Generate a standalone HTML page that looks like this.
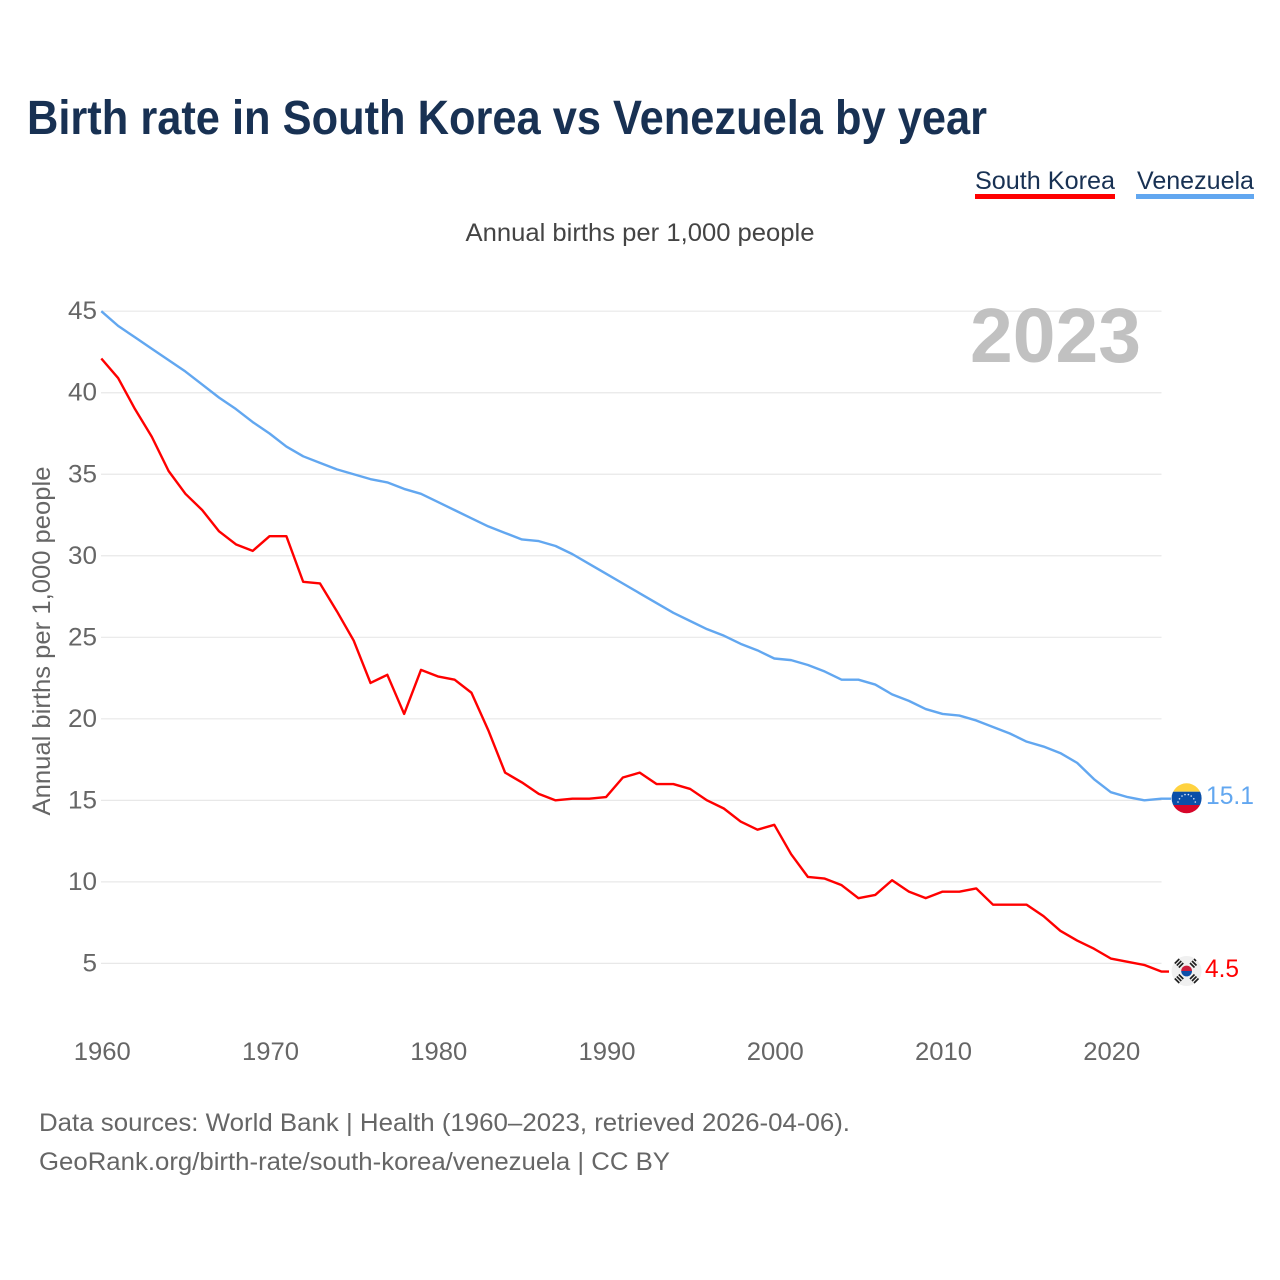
<!DOCTYPE html>
<html lang="en">
<head>
<meta charset="utf-8">
<title>Birth rate in South Korea vs Venezuela by year</title>
<style>
html,body{margin:0;padding:0;background:#fff;width:1280px;height:1280px;overflow:hidden}
svg{display:block}
text{font-family:"Liberation Sans",sans-serif}
</style>
</head>
<body>
<svg id="chart" width="1280" height="1280" viewBox="0 0 1280 1280" xmlns="http://www.w3.org/2000/svg">
  <rect x="0" y="0" width="1280" height="1280" fill="#fff"/>
  <text x="27" y="134" font-size="48" font-weight="700" fill="#183153" textLength="960" lengthAdjust="spacingAndGlyphs">Birth rate in South Korea vs Venezuela by year</text>

  <g>
    <text x="975" y="189" font-size="25" fill="#183153" textLength="140" lengthAdjust="spacingAndGlyphs">South Korea</text>
    <rect x="975" y="194" width="140" height="5" fill="#ff0000"/>
  </g>
  <g>
    <text x="1137" y="189" font-size="25" fill="#183153" textLength="117" lengthAdjust="spacingAndGlyphs">Venezuela</text>
    <rect x="1136" y="194" width="118" height="5" fill="#62a7f0"/>
  </g>

  <text x="640" y="241" font-size="25" fill="#444" text-anchor="middle" textLength="349" lengthAdjust="spacingAndGlyphs">Annual births per 1,000 people</text>

  <g id="grid"></g>
  <g id="yticks"></g>
  <g id="xticks"></g>

  <text x="0" y="0" transform="translate(50,641) rotate(-90)" font-size="25" fill="#666" text-anchor="middle" textLength="349" lengthAdjust="spacingAndGlyphs">Annual births per 1,000 people</text>

  <text x="970" y="362" font-size="77" font-weight="700" fill="#bebebe" fill-opacity="0.95" textLength="171" lengthAdjust="spacingAndGlyphs">2023</text>

  <polyline id="line-ve" fill="none" stroke="#62a7f0" stroke-width="2.4" stroke-linejoin="round"/>
  <polyline id="line-kr" fill="none" stroke="#ff0000" stroke-width="2.4" stroke-linejoin="round"/>

  <g id="flag-ve">
    <defs>
      <clipPath id="clip-ve"><circle cx="1186.6" cy="798.3" r="15"/></clipPath>
    </defs>
    <g clip-path="url(#clip-ve)">
      <rect x="1171" y="783" width="32" height="8.7" fill="#ffd23f"/>
      <rect x="1171" y="791.7" width="32" height="13.3" fill="#0a4fa8"/>
      <rect x="1171" y="805" width="32" height="9" fill="#d7062a"/>
    </g>
    <g fill="#dfe8f5">
      <circle cx="1178" cy="802" r="0.8"/><circle cx="1179.5" cy="798.8" r="0.8"/><circle cx="1182" cy="796" r="0.8"/>
      <circle cx="1185" cy="794.6" r="0.8"/><circle cx="1188.4" cy="794.6" r="0.8"/><circle cx="1191.2" cy="796" r="0.8"/>
      <circle cx="1193.8" cy="798.8" r="0.8"/><circle cx="1195.3" cy="802" r="0.8"/>
    </g>
  </g>
  <text id="label-ve" x="1206" y="804" font-size="25" fill="#62a7f0" textLength="48" lengthAdjust="spacingAndGlyphs">15.1</text>

  <g id="flag-kr">
    <circle cx="1186.6" cy="971" r="15" fill="#f0f0f0"/>
    <path d="M1181.2 971a5.4 5.4 0 0 1 10.8 0z" fill="#cd1e3c"/>
    <path d="M1181.2 971a5.4 5.4 0 0 0 10.8 0z" fill="#0f4fa8"/>
    <g stroke="#1e1e1e" stroke-width="1.6" fill="none">
      <path d="M1174.8 963.5l4.5-4.5M1176.8 965.5l4.5-4.5M1178.8 967.5l4.5-4.5"/>
      <path d="M1190 963l4.5 4.5M1192 961l4.5 4.5M1194 959l2 2M1193.5 962.5l-0.1-0.1"/>
      <path d="M1174.8 978.5l4.5 4.5M1176.8 976.5l4.5 4.5M1178.8 974.5l4.5 4.5"/>
      <path d="M1190 979l4.5-4.5M1192 981l4.5-4.5M1194 983l4.5-4.5"/>
    </g>
  </g>
  <text id="label-kr" x="1205" y="977" font-size="25" fill="#ff0000" textLength="34" lengthAdjust="spacingAndGlyphs">4.5</text>

  <text x="39" y="1131" font-size="25" fill="#666" textLength="811" lengthAdjust="spacingAndGlyphs">Data sources: World Bank | Health (1960–2023, retrieved 2026-04-06).</text>
  <text x="39" y="1170" font-size="25" fill="#666" textLength="631" lengthAdjust="spacingAndGlyphs">GeoRank.org/birth-rate/south-korea/venezuela | CC BY</text>
</svg>
<script>
var startYear = 1960;
var southKorea = [42.1,40.9,39.0,37.3,35.2,33.8,32.8,31.5,30.7,30.3,31.2,31.2,28.4,28.3,26.6,24.8,22.2,22.7,20.3,23.0,22.6,22.4,21.6,19.3,16.7,16.1,15.4,15.0,15.1,15.1,15.2,16.4,16.7,16.0,16.0,15.7,15.0,14.5,13.7,13.2,13.5,11.7,10.3,10.2,9.8,9.0,9.2,10.1,9.4,9.0,9.4,9.4,9.6,8.6,8.6,8.6,7.9,7.0,6.4,5.9,5.3,5.1,4.9,4.5];
var venezuela = [45.0,44.1,43.4,42.7,42.0,41.3,40.5,39.7,39.0,38.2,37.5,36.7,36.1,35.7,35.3,35.0,34.7,34.5,34.1,33.8,33.3,32.8,32.3,31.8,31.4,31.0,30.9,30.6,30.1,29.5,28.9,28.3,27.7,27.1,26.5,26.0,25.5,25.1,24.6,24.2,23.7,23.6,23.3,22.9,22.4,22.4,22.1,21.5,21.1,20.6,20.3,20.2,19.9,19.5,19.1,18.6,18.3,17.9,17.3,16.3,15.5,15.2,15.0,15.1];
var yTickValues = [5,10,15,20,25,30,35,40,45];
var xTickValues = [1960,1970,1980,1990,2000,2010,2020];

var SVGNS = 'http://www.w3.org/2000/svg';
function xScale(year){ return 101.3 + (year - 1960) * (1110.8 - 101.3) / 60; }
function yScale(v){ return 963.4 - (v - 5) * (963.4 - 311.2) / 40; }

var grid = document.getElementById('grid');
var yticks = document.getElementById('yticks');
var xticks = document.getElementById('xticks');

yTickValues.forEach(function(v){
  var l = document.createElementNS(SVGNS, 'line');
  l.setAttribute('x1', 101);
  l.setAttribute('x2', 1161.5);
  l.setAttribute('y1', yScale(v));
  l.setAttribute('y2', yScale(v));
  l.setAttribute('stroke', '#e8e8e8');
  l.setAttribute('stroke-width', '1.2');
  
  
  grid.appendChild(l);

  var t = document.createElementNS(SVGNS, 'text');
  t.setAttribute('x', 97);
  t.setAttribute('y', yScale(v) + 8);
  t.setAttribute('text-anchor', 'end');
  t.setAttribute('font-size', '25');
  t.setAttribute('fill', '#666');
  t.setAttribute('textLength', String(v).length * 14.5);
  t.setAttribute('lengthAdjust', 'spacingAndGlyphs');
  
  
  t.textContent = v;
  yticks.appendChild(t);
});

xTickValues.forEach(function(y){
  var t = document.createElementNS(SVGNS, 'text');
  t.setAttribute('x', xScale(y) + 1);
  t.setAttribute('y', 1060);
  t.setAttribute('text-anchor', 'middle');
  t.setAttribute('font-size', '25');
  t.setAttribute('fill', '#666');
  t.setAttribute('textLength', '57');
  t.setAttribute('lengthAdjust', 'spacingAndGlyphs');
  
  
  t.textContent = y;
  xticks.appendChild(t);
});

function pointsFor(series){
  return series.map(function(v, i){
    return xScale(startYear + i).toFixed(2) + ',' + yScale(v).toFixed(2);
  });
}
function tailFor(series, x){
  return x + ',' + yScale(series[series.length - 1]).toFixed(2);
}
document.getElementById('line-kr').setAttribute('points', pointsFor(southKorea).concat(tailFor(southKorea, 1169)).join(' '));
document.getElementById('line-ve').setAttribute('points', pointsFor(venezuela).concat(tailFor(venezuela, 1171)).join(' '));
document.getElementById('label-kr').textContent = southKorea[southKorea.length - 1].toFixed(1);
document.getElementById('label-ve').textContent = venezuela[venezuela.length - 1].toFixed(1);
</script>
</body>
</html>
